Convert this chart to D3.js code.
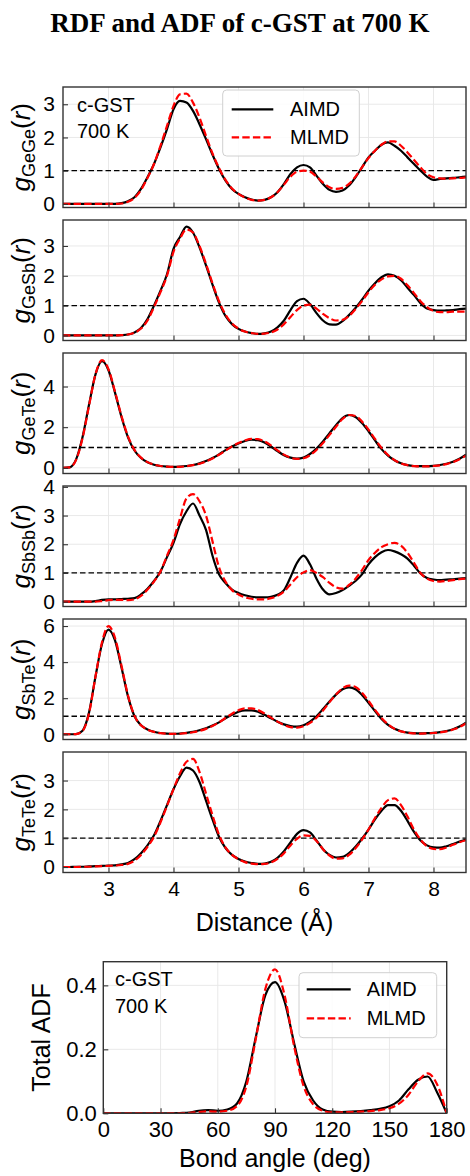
<!DOCTYPE html>
<style>
body { margin: 0; background: #fff; }
text { font-family: "Liberation Sans", Arial, sans-serif; fill: #000; }
.grid line { stroke: #e6e6e6; stroke-width: 0.9; }
.axis .domain { display: none; }
.axis line { stroke: #333; stroke-width: 1.1; }
</style>
<svg width="470" height="1176" class="fig"></svg>
<script src="https://d3js.org/d3.v7.min.js"></script>
<script>

// distance grid (Å)
var distance = [2.3,2.4,2.5,2.6,2.7,2.8,2.9,3.0,3.1,3.2,
  3.3,3.4,3.5,3.6,3.7,3.8,3.9,4.0,4.1,4.2,
  4.3,4.4,4.5,4.6,4.7,4.8,4.9,5.0,5.1,5.2,
  5.3,5.4,5.5,5.6,5.7,5.8,5.9,6.0,6.1,6.2,
  6.3,6.4,6.5,6.6,6.7,6.8,6.9,7.0,7.1,7.2,
  7.3,7.4,7.5,7.6,7.7,7.8,7.9,8.0,8.1,8.2,
  8.3,8.4,8.5];

var gGeGeAimd = [0,0,0,0,0,0,0,0,0,0.02,
  0.08,0.2,0.45,0.8,1.2,1.7,2.25,2.85,3.1,3.05,
  2.8,2.4,1.95,1.48,1.05,0.7,0.45,0.3,0.2,0.13,
  0.1,0.12,0.2,0.35,0.6,0.9,1.1,1.17,1.1,0.85,
  0.6,0.42,0.36,0.4,0.55,0.8,1.1,1.4,1.6,1.78,
  1.85,1.75,1.6,1.4,1.2,1.0,0.82,0.72,0.75,0.77,
  0.78,0.8,0.82];
var gGeGeMlmd = [0,0,0,0,0,0,0,0,0,0.01,
  0.06,0.18,0.42,0.78,1.2,1.75,2.35,2.95,3.3,3.32,
  3.05,2.6,2.05,1.52,1.08,0.72,0.46,0.3,0.19,0.12,
  0.1,0.12,0.2,0.35,0.58,0.82,0.97,1.0,0.97,0.82,
  0.64,0.5,0.45,0.48,0.6,0.82,1.1,1.38,1.6,1.78,
  1.88,1.88,1.75,1.55,1.32,1.1,0.9,0.8,0.77,0.76,
  0.77,0.78,0.8];

var gGeSbAimd = [0,0,0,0,0,0,0,0,0,0.01,
  0.03,0.1,0.25,0.55,1.0,1.5,2.05,2.9,3.3,3.65,
  3.45,2.95,2.35,1.7,1.1,0.65,0.38,0.22,0.13,0.08,
  0.05,0.07,0.13,0.27,0.5,0.85,1.15,1.23,1.05,0.75,
  0.5,0.37,0.36,0.48,0.68,0.92,1.2,1.5,1.75,1.95,
  2.05,2.0,1.85,1.6,1.35,1.08,0.9,0.85,0.83,0.84,
  0.85,0.88,0.9];
var gGeSbMlmd = [0,0,0,0,0,0,0,0,0,0.01,
  0.03,0.09,0.23,0.5,0.95,1.45,2.0,2.8,3.25,3.55,
  3.45,3.0,2.4,1.75,1.15,0.7,0.4,0.23,0.13,0.08,
  0.05,0.06,0.1,0.2,0.38,0.62,0.85,1.0,1.03,0.9,
  0.72,0.58,0.5,0.52,0.65,0.88,1.15,1.45,1.7,1.88,
  1.98,2.0,1.9,1.68,1.42,1.15,0.95,0.82,0.78,0.78,
  0.8,0.8,0.8];

var gGeTeAimd = [0,0.02,0.4,1.5,3.1,4.6,5.25,4.8,3.7,2.5,
  1.5,0.85,0.48,0.27,0.15,0.09,0.06,0.05,0.06,0.09,
  0.14,0.22,0.33,0.48,0.66,0.87,1.05,1.2,1.32,1.38,
  1.36,1.25,1.05,0.82,0.62,0.5,0.45,0.5,0.68,0.95,
  1.3,1.7,2.1,2.45,2.6,2.5,2.2,1.8,1.35,0.92,
  0.6,0.37,0.22,0.13,0.09,0.08,0.08,0.1,0.14,0.2,
  0.3,0.45,0.65];
var gGeTeMlmd = [0,0.02,0.38,1.45,3.05,4.6,5.3,4.85,3.75,2.55,
  1.55,0.88,0.5,0.28,0.16,0.09,0.06,0.05,0.05,0.08,
  0.13,0.2,0.31,0.46,0.64,0.85,1.05,1.22,1.35,1.42,
  1.41,1.3,1.1,0.86,0.65,0.5,0.44,0.47,0.62,0.88,
  1.22,1.62,2.02,2.4,2.6,2.55,2.28,1.88,1.42,0.98,
  0.63,0.38,0.22,0.13,0.08,0.07,0.07,0.09,0.12,0.18,
  0.28,0.42,0.6];

var gSbSbAimd = [0,0,0,0,0,0.02,0.06,0.08,0.08,0.09,
  0.1,0.12,0.25,0.45,0.72,1.05,1.55,2.05,2.7,3.15,
  3.42,3.0,2.5,1.6,0.95,0.65,0.42,0.3,0.22,0.17,
  0.15,0.15,0.17,0.24,0.4,0.85,1.35,1.6,1.3,0.8,
  0.42,0.25,0.3,0.4,0.55,0.72,0.95,1.3,1.55,1.72,
  1.8,1.75,1.65,1.5,1.25,0.98,0.82,0.77,0.75,0.77,
  0.78,0.8,0.82];
var gSbSbMlmd = [0,0,0,0,0,0,0.02,0.05,0.06,0.06,
  0.05,0.08,0.2,0.42,0.7,1.05,1.6,2.15,2.9,3.6,
  3.75,3.5,3.0,2.1,1.2,0.7,0.4,0.25,0.15,0.1,
  0.08,0.08,0.12,0.2,0.35,0.6,0.85,1.02,1.1,1.0,
  0.85,0.65,0.5,0.45,0.58,0.8,1.1,1.45,1.7,1.9,
  2.0,2.05,1.95,1.7,1.35,1.0,0.8,0.72,0.7,0.72,
  0.75,0.78,0.8];

var gSbTeAimd = [0,0,0.01,0.2,1.2,3.2,5.0,5.8,5.2,3.7,
  2.1,1.0,0.5,0.27,0.14,0.07,0.04,0.03,0.04,0.08,
  0.13,0.22,0.33,0.48,0.66,0.88,1.08,1.25,1.33,1.33,
  1.25,1.08,0.88,0.7,0.55,0.45,0.42,0.5,0.7,1.0,
  1.4,1.82,2.2,2.5,2.6,2.5,2.18,1.75,1.28,0.85,
  0.52,0.3,0.17,0.09,0.06,0.05,0.06,0.08,0.12,0.18,
  0.28,0.43,0.65];
var gSbTeMlmd = [0,0,0.01,0.18,1.15,3.2,5.1,6.0,5.35,3.8,
  2.15,1.02,0.5,0.26,0.13,0.06,0.03,0.02,0.03,0.06,
  0.11,0.19,0.3,0.46,0.66,0.9,1.14,1.33,1.44,1.44,
  1.34,1.15,0.92,0.7,0.52,0.4,0.37,0.44,0.63,0.92,
  1.32,1.78,2.2,2.55,2.7,2.62,2.3,1.85,1.35,0.9,
  0.55,0.3,0.16,0.08,0.05,0.04,0.05,0.07,0.1,0.16,
  0.26,0.4,0.6];

var gTeTeAimd = [0,0,0.01,0.01,0.02,0.03,0.04,0.05,0.06,0.09,
  0.14,0.27,0.48,0.75,1.1,1.6,2.15,2.7,3.15,3.45,
  3.35,2.95,2.3,1.65,1.05,0.66,0.42,0.28,0.19,0.14,
  0.11,0.12,0.18,0.32,0.55,0.85,1.15,1.28,1.2,0.92,
  0.62,0.42,0.33,0.35,0.48,0.7,0.98,1.3,1.65,1.95,
  2.15,2.15,1.95,1.6,1.22,0.92,0.75,0.68,0.67,0.72,
  0.8,0.88,0.95];
var gTeTeMlmd = [0,0,0,0.01,0.01,0.02,0.03,0.04,0.05,0.07,
  0.11,0.22,0.42,0.7,1.05,1.55,2.12,2.7,3.25,3.65,
  3.75,3.3,2.55,1.8,1.12,0.68,0.42,0.27,0.17,0.12,
  0.1,0.11,0.16,0.28,0.48,0.75,0.98,1.1,1.08,0.9,
  0.62,0.4,0.29,0.3,0.42,0.65,0.95,1.3,1.7,2.05,
  2.32,2.38,2.15,1.75,1.3,0.95,0.72,0.63,0.62,0.68,
  0.77,0.86,0.93];

// bond angle distribution
var angle = [0,5,10,15,20,25,30,35,40,45,50,55,60,65,70,75,80,85,90,95,
  100,105,110,115,120,125,130,135,140,145,150,155,160,165,170,175,180];
var adfAimd = [0,0,0,0,0,0,0,0,0.001,0.002,
  0.008,0.01,0.008,0.012,0.03,0.1,0.24,0.37,0.41,0.35,
  0.22,0.1,0.04,0.012,0.005,0.004,0.005,0.007,0.01,0.014,
  0.022,0.04,0.075,0.105,0.115,0.065,0];
var adfMlmd = [0,0,0,0,0,0,0,0,0,0.001,
  0.004,0.006,0.005,0.008,0.022,0.085,0.235,0.39,0.45,0.37,
  0.21,0.085,0.028,0.008,0.003,0.003,0.004,0.005,0.007,0.01,
  0.016,0.03,0.058,0.1,0.125,0.09,0];

var distTicks = [3, 4, 5, 6, 7, 8];
var angleTicks = [0, 30, 60, 90, 120, 150, 180];
var adfTicks = [0.0, 0.2, 0.4];

var panels = [
  {pair: "GeGe", aimd: gGeGeAimd, mlmd: gGeGeMlmd, ylim: [-0.11, 3.52], ticks: [0, 1, 2, 3]},
  {pair: "GeSb", aimd: gGeSbAimd, mlmd: gGeSbMlmd, ylim: [-0.17, 3.87], ticks: [0, 1, 2, 3]},
  {pair: "GeTe", aimd: gGeTeAimd, mlmd: gGeTeMlmd, ylim: [-0.28, 5.65], ticks: [0, 2, 4]},
  {pair: "SbSb", aimd: gSbSbAimd, mlmd: gSbSbMlmd, ylim: [-0.17, 4.03], ticks: [0, 1, 2, 3, 4]},
  {pair: "SbTe", aimd: gSbTeAimd, mlmd: gSbTeMlmd, ylim: [-0.29, 6.39], ticks: [0, 2, 4, 6]},
  {pair: "TeTe", aimd: gTeTeAimd, mlmd: gTeTeMlmd, ylim: [-0.19, 3.99], ticks: [0, 1, 2, 3]}
];

var svg = d3.select(".fig");

svg.append("text")
    .attr("x", 240)
    .attr("y", 32)
    .attr("text-anchor", "middle")
    .style("font-family", "'Liberation Serif', 'Times New Roman', serif")
    .style("font-weight", "bold")
    .style("font-size", "27px")
    .text("RDF and ADF of c-GST at 700 K");

var left = 63, right = 466, top0 = 87, step = 133, ph = 120.5;

var x = d3.scaleLinear().domain([2.3, 8.5]).range([left, right]);

function drawLines(g, xs, ys, clipId, xv, a, m) {
  var line = d3.line()
      .x(function(d, i) { return xs(xv[i]); })
      .y(function(d) { return ys(d); })
      .curve(d3.curveMonotoneX);
  var lg = g.append("g").attr("clip-path", "url(#" + clipId + ")");
  lg.append("path")
      .attr("d", line(a))
      .attr("fill", "none")
      .attr("stroke", "#000")
      .attr("stroke-width", 2.2);
  lg.append("path")
      .attr("d", line(m))
      .attr("fill", "none")
      .attr("stroke", "#ff0000")
      .attr("stroke-width", 2.2)
      .attr("stroke-dasharray", "7.4,3.2");
}

function drawLegend(g, bx, by, bw, bh, lx0, lx1, tx, y1, y2) {
  g.append("rect")
      .attr("x", bx).attr("y", by).attr("width", bw).attr("height", bh)
      .attr("rx", 4)
      .attr("fill", "#fff").attr("fill-opacity", 0.85)
      .attr("stroke", "#d0d0d0").attr("stroke-width", 1);
  g.append("line").attr("x1", lx0).attr("x2", lx1).attr("y1", y1).attr("y2", y1)
      .attr("stroke", "#000").attr("stroke-width", 2.2);
  g.append("line").attr("x1", lx0).attr("x2", lx1).attr("y1", y2).attr("y2", y2)
      .attr("stroke", "#ff0000").attr("stroke-width", 2.2).attr("stroke-dasharray", "7.4,3.2");
  g.append("text").attr("x", tx).attr("y", y1).attr("dy", "0.35em")
      .style("font-size", "20px").text("AIMD");
  g.append("text").attr("x", tx).attr("y", y2).attr("dy", "0.35em")
      .style("font-size", "20px").text("MLMD");
}

panels.forEach(function(p, i) {
  var top = top0 + i * step, bottom = top + ph;
  var y = d3.scaleLinear().domain(p.ylim).range([bottom, top]);
  var g = svg.append("g");

  g.append("clipPath").attr("id", "clip" + i)
    .append("rect").attr("x", left).attr("y", top).attr("width", right - left).attr("height", ph);

  var grid = g.append("g").attr("class", "grid");
  grid.selectAll(".gx").data(distTicks).enter().append("line")
      .attr("x1", function(d) { return x(d); }).attr("x2", function(d) { return x(d); })
      .attr("y1", top).attr("y2", bottom);
  grid.selectAll(".gy").data(p.ticks).enter().append("line")
      .attr("x1", left).attr("x2", right)
      .attr("y1", function(d) { return y(d); }).attr("y2", function(d) { return y(d); });

  g.append("line")
      .attr("x1", left).attr("x2", right)
      .attr("y1", y(1)).attr("y2", y(1))
      .attr("stroke", "#000").attr("stroke-width", 1.3)
      .attr("stroke-dasharray", "5.5,3");

  drawLines(g, x, y, "clip" + i, distance, p.aimd, p.mlmd);

  var yAxis = g.append("g")
      .attr("class", "axis")
      .attr("transform", "translate(" + left + ",0)")
      .call(d3.axisLeft(y).tickValues(p.ticks).tickSizeInner(-5).tickSizeOuter(0).tickPadding(8)
        .tickFormat(d3.format("d")));
  yAxis.selectAll("text").style("font-size", "21px");

  var xAxis = g.append("g")
      .attr("class", "axis")
      .attr("transform", "translate(0," + bottom + ")")
      .call(d3.axisBottom(x).tickValues(distTicks).tickSizeInner(-5).tickSizeOuter(0).tickPadding(8.5)
        .tickFormat(i === panels.length - 1 ? d3.format("d") : function() { return ""; }));
  xAxis.selectAll("text").style("font-size", "21px");

  g.append("rect")
      .attr("x", left).attr("y", top).attr("width", right - left).attr("height", ph)
      .attr("fill", "none").attr("stroke", "#333").attr("stroke-width", 1.4);

  var lab = g.append("text")
      .attr("transform", "translate(30," + (top + ph / 2) + ") rotate(-90)")
      .attr("text-anchor", "middle")
      .style("font-size", "26px");
  lab.append("tspan").style("font-style", "italic").text("g");
  lab.append("tspan").attr("dy", 5).style("font-size", "18px").text(p.pair);
  lab.append("tspan").attr("dy", -5).text("(");
  lab.append("tspan").style("font-style", "italic").text("r");
  lab.append("tspan").text(")");

  if (i === 0) {
    g.append("text").attr("x", 77).attr("y", 105).attr("dy", "0.35em")
        .style("font-size", "20px").text("c-GST");
    g.append("text").attr("x", 77).attr("y", 131).attr("dy", "0.35em")
        .style("font-size", "20px").text("700 K");
    drawLegend(g, 222.7, 90, 136.6, 66, 231.7, 273.3, 290, 109.3, 137.3);
  }
});

svg.append("text")
    .attr("x", (left + right) / 2)
    .attr("y", 930.5)
    .attr("text-anchor", "middle")
    .style("font-size", "25px")
    .text("Distance (Å)");

// ADF panel
var aLeft = 103.3, aRight = 446.7, aTop = 961.7, aBottom = 1113.3;
var xa = d3.scaleLinear().domain([0, 180]).range([aLeft, aRight]);
var ya = d3.scaleLinear().domain([0, 0.474]).range([aBottom, aTop]);
var ga = svg.append("g");

ga.append("clipPath").attr("id", "clipA")
  .append("rect").attr("x", aLeft).attr("y", aTop).attr("width", aRight - aLeft).attr("height", aBottom - aTop);

var gridA = ga.append("g").attr("class", "grid");
gridA.selectAll(".gx").data(angleTicks).enter().append("line")
    .attr("x1", function(d) { return xa(d); }).attr("x2", function(d) { return xa(d); })
    .attr("y1", aTop).attr("y2", aBottom);
gridA.selectAll(".gy").data(adfTicks).enter().append("line")
    .attr("x1", aLeft).attr("x2", aRight)
    .attr("y1", function(d) { return ya(d); }).attr("y2", function(d) { return ya(d); });

drawLines(ga, xa, ya, "clipA", angle, adfAimd, adfMlmd);

var yaAxis = ga.append("g")
    .attr("class", "axis")
    .attr("transform", "translate(" + aLeft + ",0)")
    .call(d3.axisLeft(ya).tickValues(adfTicks).tickSizeInner(-5).tickSizeOuter(0).tickPadding(6.5)
      .tickFormat(d3.format(".1f")));
yaAxis.selectAll("text").style("font-size", "22px");

var xaAxis = ga.append("g")
    .attr("class", "axis")
    .attr("transform", "translate(0," + aBottom + ")")
    .call(d3.axisBottom(xa).tickValues(angleTicks).tickSizeInner(-5).tickSizeOuter(0).tickPadding(8));
xaAxis.selectAll("text").style("font-size", "22px");

ga.append("rect")
    .attr("x", aLeft).attr("y", aTop).attr("width", aRight - aLeft).attr("height", aBottom - aTop)
    .attr("fill", "none").attr("stroke", "#333").attr("stroke-width", 1.4);

ga.append("text").attr("x", 115).attr("y", 979.3).attr("dy", "0.35em")
    .style("font-size", "20px").text("c-GST");
ga.append("text").attr("x", 115).attr("y", 1006).attr("dy", "0.35em")
    .style("font-size", "20px").text("700 K");
drawLegend(ga, 299, 972.7, 137.7, 65, 306.7, 350.7, 366.7, 989.3, 1018.3);

ga.append("text")
    .attr("transform", "translate(50," + ((aTop + aBottom) / 2) + ") rotate(-90)")
    .attr("text-anchor", "middle")
    .style("font-size", "25px")
    .text("Total ADF");

ga.append("text")
    .attr("x", (aLeft + aRight) / 2)
    .attr("y", 1167)
    .attr("text-anchor", "middle")
    .style("font-size", "25px")
    .text("Bond angle (deg)");

</script>
